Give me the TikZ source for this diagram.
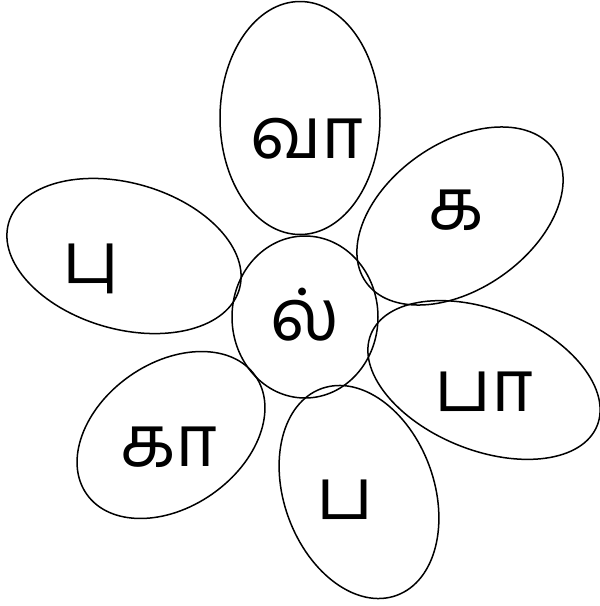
\documentclass[tikz,border=0pt]{standalone}
\usepackage{fontspec}
\newfontfamily\tamilfont[Script=Tamil]{Hind Madurai}
\usetikzlibrary{shapes.geometric}
\tikzset{
  petal/.style={ellipse, draw=black, line width=1.5pt, inner sep=0pt},
  letter/.style={anchor=base, inner sep=0pt, font=\tamilfont\fontsize{72}{72}\selectfont}
}
\begin{document}
\begin{tikzpicture}[x=1pt,y=-1pt]
\useasboundingbox (0,0) rectangle (600,606);
% petals
\node[petal, minimum width=160pt, minimum height=233pt] (top) at (300,118) {};
\node[petal, minimum width=230pt, minimum height=146pt, rotate=35] (ne) at (460,216) {};
\node[petal, minimum width=240pt, minimum height=146pt, rotate=-16] (w) at (124,256) {};
\node[petal, minimum width=146pt, minimum height=162pt] (c) at (305,317) {};
\node[petal, minimum width=244pt, minimum height=140pt, rotate=-22] (e) at (484,380) {};
\node[petal, minimum width=206pt, minimum height=144pt, rotate=35] (sw) at (171,435) {};
\node[petal, minimum width=150pt, minimum height=220pt, rotate=20] (s) at (359,492) {};
% letters
\node[letter] (ttop) at (307,158) {வா};
\node[letter] (tne) at (456,229) {க};
\node[letter] (tw) at (91,283) {பு};
\node[letter] (tc) at (305,340) {ல்};
\node[letter] (te) at (484,411) {பா};
\node[letter] (tsw) at (169,466) {கா};
\node[letter] (ts) at (345,519) {ப};
\end{tikzpicture}
\end{document}
